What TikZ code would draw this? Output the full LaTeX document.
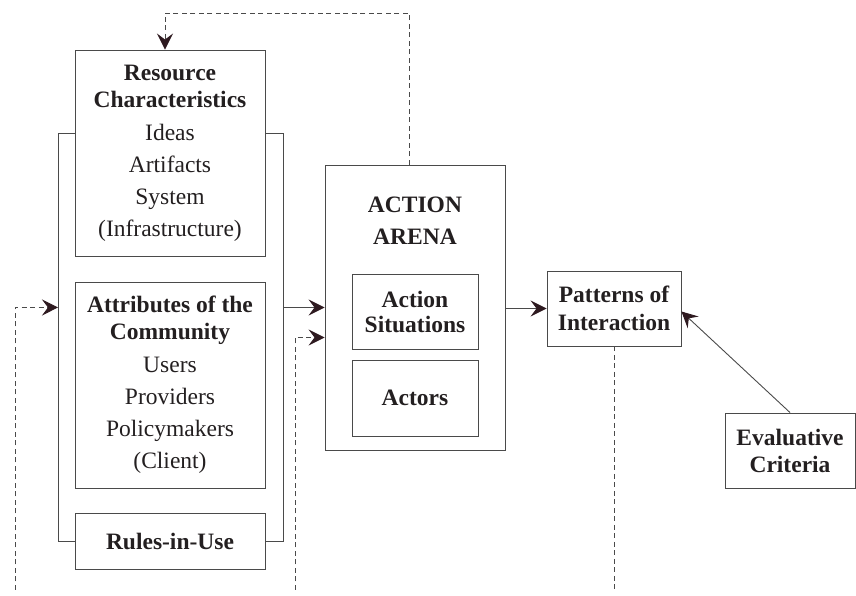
\documentclass[tikz,border=0pt]{standalone}
\usepackage{fontspec}
\setmainfont{Liberation Serif}
\usetikzlibrary{arrows.meta, positioning, calc}
\usepackage{xcolor}
\definecolor{inkcol}{HTML}{231F20}
\definecolor{linecol}{HTML}{4A4A4A}
\definecolor{tipcol}{HTML}{2E1A20}

\begin{document}
\begin{tikzpicture}[
  x=1pt, y=1pt,
  box/.style={draw=linecol, line width=0.9pt, align=center, text=inkcol, inner sep=0pt,
    font=\fontsize{23.5}{27}\selectfont},
  head/.style={font=\fontsize{23.5}{27}\selectfont\bfseries, text=inkcol, align=center, inner sep=0pt},
  wire/.style={draw=linecol, line width=0.9pt},
  arrow/.style={wire, -{Stealth[length=16pt, width=16pt, inset=6pt, color=tipcol, fill=tipcol]}},
  fback/.style={arrow, dash pattern=on 5pt off 3.5pt}
]
\useasboundingbox (0,0) rectangle (856,596);

\node[box, minimum width=190, minimum height=206] (res) at (170,443)
  {\textbf{Resource}\\\textbf{Characteristics}\\[6pt]Ideas\\[5pt]Artifacts\\[5pt]System\\[5pt](Infrastructure)};
\node[box, minimum width=190, minimum height=206] (attr) at (170,211)
  {\textbf{Attributes of the}\\\textbf{Community}\\[6pt]Users\\[5pt]Providers\\[5pt]Policymakers\\[5pt](Client)};
\node[box, minimum width=190, minimum height=56, font=\fontsize{23.5}{27}\selectfont\bfseries] (rules) at (170,55) {Rules-in-Use};

\node[box, minimum width=180, minimum height=285] (arena) at (415,288.5) {};
\node[head, font=\fontsize{23.5}{32}\selectfont\bfseries] (arenatitle) at ([yshift=-56]arena.north) {ACTION\\ARENA};
\node[box, minimum width=126, minimum height=75, font=\fontsize{23.5}{25}\selectfont\bfseries] (sit) at (415,284.5) {Action\\Situations};
\node[box, minimum width=126, minimum height=76, font=\fontsize{23.5}{27}\selectfont\bfseries] (actors) at (415,198) {Actors};

\node[box, minimum width=134, minimum height=75, font=\fontsize{23.5}{28}\selectfont\bfseries] (pat) at (614,287.5) {Patterns of\\Interaction};
\node[box, minimum width=130, minimum height=75, font=\fontsize{23.5}{27}\selectfont\bfseries] (eval) at (790,145.5) {Evaluative\\Criteria};

\coordinate (brkL) at (58,463);
\coordinate (brkR) at (283,463);
\coordinate (fbL) at (15,6);
\coordinate (fbM) at (295,6);
\coordinate (fbTop) at (0,583);

\draw[wire] (res.west |- brkL) -- (brkL) |- (rules.west);
\draw[wire] (res.east |- brkR) -- (brkR) |- (rules.east);

\draw[arrow] (brkR |- arena.west) -- (arena.west);
\draw[arrow] (arena.east |- pat.west) -- (pat.west);
\draw[arrow] (eval.north) -- ([yshift=-3]pat.east);

\draw[fback] (fbL) |- (brkL |- arena.west);
\draw[fback] (fbM) |- ([yshift=-30]arena.west);
\draw[fback] ([xshift=-6]arena.north) -- ([xshift=-6]arena.north |- fbTop) -| ([xshift=-5]res.north);
\draw[wire, dash pattern=on 5pt off 3.5pt] (pat.south) -- (pat.south |- fbL);
\end{tikzpicture}
\end{document}
